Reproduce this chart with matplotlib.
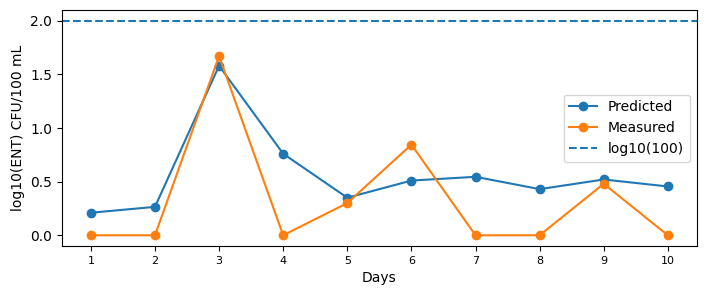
import matplotlib
matplotlib.use("Agg")
import matplotlib.pyplot as plt

days = [1, 2, 3, 4, 5, 6, 7, 8, 9, 10]
predicted = [0.21, 0.265, 1.58, 0.76, 0.35, 0.51, 0.545, 0.43, 0.52, 0.455]
measured = [0.0, 0.0, 1.67, 0.0, 0.30, 0.845, 0.0, 0.0, 0.48, 0.0]
threshold = 2.0

fig = plt.figure(figsize=(7.06, 2.97), dpi=100)
ax = fig.add_axes([62/706, 1-246/297, (696.7-62)/706, (246-10)/297])
ax.plot(days, predicted, marker='o', color='#1f77b4', label='Predicted')
ax.plot(days, measured, marker='o', color='#ff7f0e', label='Measured')
ax.axhline(threshold, linestyle='--', color='#1f77b4', label='log10(100)')
ax.set_xticks(days)
ax.tick_params(axis='x', labelsize=8)
ax.set_xlabel('Days')
ax.set_ylabel('log10(ENT) CFU/100 mL')
ax.legend(loc='center right')
fig.savefig('out.png', dpi=100)
